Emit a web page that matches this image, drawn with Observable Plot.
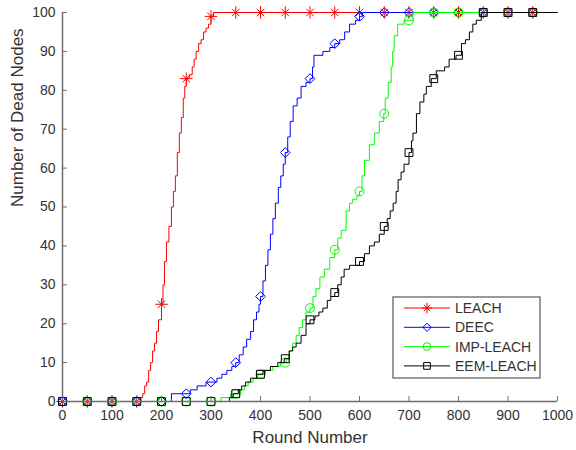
<!DOCTYPE html>
<html><head><meta charset="utf-8">
<script src="https://cdn.jsdelivr.net/npm/d3@7"></script>
<script src="https://cdn.jsdelivr.net/npm/@observablehq/plot@0.6"></script>
<style>
body{margin:0;background:#fff;font-family:Arial,"Liberation Sans",sans-serif}
#chart{width:576px;height:450px}
</style></head><body><div id="chart"></div>
<script>
const seriesNames = ["LEACH", "DEEC", "IMP-LEACH", "EEM-LEACH"];
const seriesColors = ["#ff0000", "#0000ff", "#00ff00", "#000000"];
const xTicks = [0,100,200,300,400,500,600,700,800,900,1000];
const yTicks = [0,10,20,30,40,50,60,70,80,90,100];
const xLabel = "Round Number";
const yLabel = "Number of Dead Nodes";
const markerRounds = [0,50,100,150,200,250,300,350,400,450,500,550,600,650,700,750,800,850,900,950];

const leachMarkers = [0,0,0,0,25,83,99,100,100,100,100,100,100,100,100,100,100,100,100,100];
const deecMarkers  = [0,0,0,0,0,2,5,10,27,64,83,92,99,100,100,100,100,100,100,100];
const impMarkers   = [0,0,0,0,0,0,0,2,7,10,24,39,54,74,98,100,100,100,100,100];
const eemMarkers   = [0,0,0,0,0,0,0,2,7,11,21,28,36,45,64,83,89,100,100,100];

const leachLine = [[0,0],[155,0],[158,1],[162,2],[166,4],[170,5],[174,8],[178,10],[182,13],[186,15],[190,18],[194,21],[200,25],[203,30],[206,36],[210,41],[215,45],[220,50],[224,54],[228,58],[232,64],[236,69],[240,73],[244,78],[247,81],[250,83],[256,84],[262,86],[266,88],[270,90],[275,92],[280,93],[285,95],[290,96],[295,97],[300,99],[305,100],[1000,100]];
const deecLine = [[0,0],[220,2],[258,3],[272,4],[290,5],[300,5],[312,6],[322,7],[332,8],[342,9],[350,10],[357,12],[365,14],[372,16],[380,18],[386,21],[392,23],[397,25],[400,27],[405,31],[410,35],[415,39],[420,43],[425,47],[430,51],[436,55],[441,58],[446,61],[450,64],[455,68],[460,72],[466,76],[474,78],[482,81],[492,82],[500,83],[505,86],[508,89],[526,90],[540,91],[550,92],[560,93],[570,95],[580,97],[592,98],[600,99],[606,100],[1000,100]];
const impLine = [[0,0],[320,1],[340,2],[360,3],[368,4],[375,5],[385,6],[395,7],[410,8],[425,9],[440,10],[452,11],[458,13],[465,15],[472,17],[478,19],[485,21],[492,23],[500,24],[506,27],[512,29],[520,32],[529,34],[540,37],[550,39],[556,42],[563,44],[573,49],[580,51],[586,52],[595,53],[600,54],[605,58],[610,62],[620,66],[630,69],[640,72],[649,74],[652,78],[658,82],[664,86],[667,90],[670,94],[677,97],[690,98],[708,100],[1000,100]];
const eemLine = [[0,0],[337,1],[345,2],[355,3],[362,4],[370,5],[380,6],[392,7],[405,8],[420,9],[435,10],[448,11],[458,13],[465,14],[472,15],[482,17],[492,20],[500,21],[510,22],[518,23],[526,24],[535,26],[542,27],[550,28],[556,30],[563,32],[569,34],[580,35],[600,36],[610,38],[620,40],[630,41],[640,43],[650,45],[656,47],[662,49],[668,51],[674,54],[678,57],[684,59],[690,61],[700,64],[705,67],[708,69],[715,74],[722,77],[730,79],[735,81],[745,83],[755,85],[772,86],[781,88],[795,89],[806,92],[814,93],[822,95],[829,97],[836,98],[846,100],[1000,100]];

const lines = [leachLine, deecLine, impLine, eemLine];
const markers = [leachMarkers, deecMarkers, impMarkers, eemMarkers];
const symbols = [["plus","times"], ["diamond2"], ["circle"], ["square2"]];
const symbolR = [[4.1,3.5], [4.4], [4.5], [5]];

const lineData = seriesNames.flatMap((s, i) => lines[i].map(([round, dead]) => ({series: s, round, dead})));
const markData = seriesNames.flatMap((s, i) => markerRounds.map((round, j) => ({series: s, round, dead: markers[i][j]})));

const axisColor = "#6e6e6e", textColor = "#333";
const marks = [];
seriesNames.forEach((s, i) => {
  marks.push(Plot.line(lineData.filter(d => d.series === s), {x: "round", y: "dead", stroke: seriesColors[i], strokeWidth: 1, curve: "step-after"}));
  symbols[i].forEach((sym, k) => {
    marks.push(Plot.dot(markData.filter(d => d.series === s), {x: "round", y: "dead", stroke: seriesColors[i], fill: "none", symbol: sym, r: symbolR[i][k], strokeWidth: 1}));
  });
});
marks.push(Plot.ruleY([0], {stroke: axisColor, strokeWidth: 1.5}));
marks.push(Plot.ruleX([0], {stroke: axisColor, strokeWidth: 1.5}));
marks.push(Plot.axisX({ticks: xTicks, tickFormat: d3.format("d"), tickSize: -5, tickPadding: 14, stroke: axisColor, fill: textColor, fontSize: 14, label: null}));
marks.push(Plot.axisY({ticks: yTicks, tickFormat: d3.format("d"), tickSize: -5, tickPadding: 12, stroke: axisColor, fill: textColor, fontSize: 14, label: null}));
marks.push(Plot.text([xLabel], {text: d => d, frameAnchor: "bottom", dy: 41, fontSize: 17, fill: textColor}));
marks.push(Plot.text([yLabel], {text: d => d, frameAnchor: "left", dx: -45, rotate: -90, fontSize: 17, fill: textColor}));

const chart = Plot.plot({
  width: 576, height: 450,
  marginLeft: 62, marginRight: 19, marginTop: 12, marginBottom: 49,
  style: {fontFamily: "Arial, 'Liberation Sans', sans-serif", fontSize: "14px", color: textColor, background: "#fff", overflow: "visible"},
  x: {domain: [0, 1000]},
  y: {domain: [0, 100]},
  marks
});
document.getElementById("chart").appendChild(chart);

// legend inside the plot area
const svg = d3.select(chart.tagName.toLowerCase() === "svg" ? chart : chart.querySelector("svg"));
const lg = svg.append("g").attr("transform", "translate(393,297)");
lg.append("rect").attr("width", 147).attr("height", 81).attr("fill", "#fff").attr("stroke", "#7a7a7a").attr("stroke-width", 1.5);
const d3sym = {plus: d3.symbolPlus, times: d3.symbolTimes, diamond2: d3.symbolDiamond2, circle: d3.symbolCircle, square2: d3.symbolSquare2};
seriesNames.forEach((s, i) => {
  const row = lg.append("g").attr("transform", `translate(0,${11 + i * 19.3})`);
  row.append("line").attr("x1", 11).attr("x2", 57).attr("stroke", seriesColors[i]).attr("stroke-width", 1);
  symbols[i].forEach((sym, k) => {
    const r = symbolR[i][k] * 0.85;
    row.append("path").attr("transform", "translate(34,0)")
      .attr("d", d3.symbol(d3sym[sym], Math.PI * r * r)())
      .attr("fill", "none").attr("stroke", seriesColors[i]).attr("stroke-width", 1);
  });
  row.append("text").attr("x", 62).attr("dy", "0.35em").attr("text-anchor", "start")
    .attr("font-size", 14).attr("fill", textColor).text(s);
});
</script></body></html>
